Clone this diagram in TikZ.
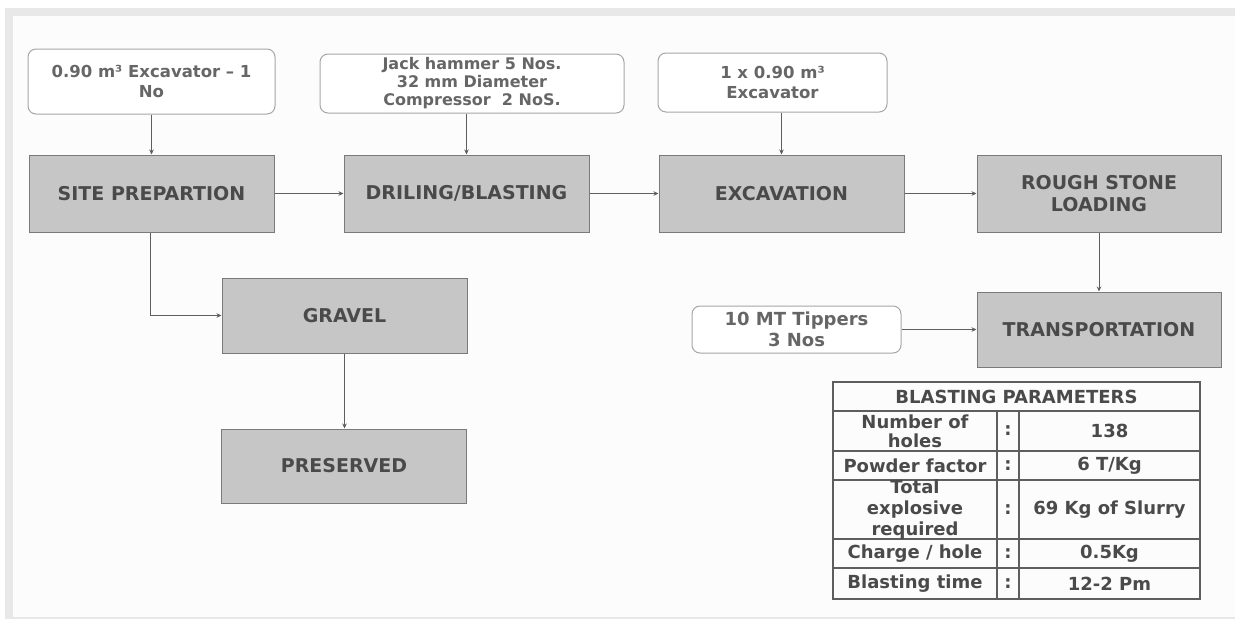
\documentclass[tikz,border=0pt]{standalone}
\usepackage{fontspec}
\setmainfont{DejaVu Sans}
\usetikzlibrary{arrows.meta}
\definecolor{bandgray}{HTML}{E8E8E8}
\definecolor{paper}{HTML}{FCFCFC}
\definecolor{boxgray}{HTML}{C6C6C6}
\definecolor{boxedge}{HTML}{7A7A7A}
\definecolor{txtgray}{HTML}{4A4A4A}
\definecolor{lightedge}{HTML}{A6A6A6}
\definecolor{wtxt}{HTML}{666666}
\definecolor{linegray}{HTML}{5E5E5E}
\begin{document}
\begin{tikzpicture}[x=1pt,y=-1pt,
  procbox/.style={draw=boxedge, fill=boxgray, line width=1pt, minimum width=245pt, minimum height=77pt, inner sep=0pt, align=center, font=\fontsize{19}{22}\selectfont\bfseries, text=txtgray},
  equipbox/.style={draw=lightedge, fill=white, rounded corners=8pt, line width=1pt, inner sep=0pt, align=center, font=\fontsize{16.5}{20}\selectfont\bfseries, text=wtxt},
  flow/.style={draw=linegray, line width=0.9pt, -{Stealth[length=5pt,width=4.5pt]}},
  celltext/.style={font=\fontsize{18}{21}\selectfont\bfseries, text=txtgray, align=center, inner sep=0pt},
  gridline/.style={draw=linegray, line width=1.3pt}
]
\useasboundingbox (0,0) rectangle (1235,619);
\fill[white] (0,0) rectangle (1235,619);
\fill[bandgray] (5,8) rectangle (1235,619);
\fill[paper] (13,16) rectangle (1235,617);

% process boxes
\node[procbox] (site) at (151.5,193.5) {SITE PREPARTION};
\node[procbox] (drill) at (466.5,193.5) {DRILING/BLASTING};
\node[procbox] (exc) at (781.5,193.5) {EXCAVATION};
\node[procbox, minimum width=244pt] (rough) at (1099,193.5) {ROUGH STONE\\LOADING};
\node[procbox, minimum height=75pt] (gravel) at (344.5,315.5) {GRAVEL};
\node[procbox, minimum height=74pt] (pres) at (344,466) {PRESERVED};
\node[procbox, minimum width=244pt, minimum height=75pt] (trans) at (1099,329.5) {TRANSPORTATION};

% equipment boxes
\node[equipbox, minimum width=247pt, minimum height=65pt] (e1) at (151.5,81.5) {0.90 m³ Excavator – 1\\No};
\node[equipbox, minimum width=304pt, minimum height=59pt, font=\fontsize{16}{18}\selectfont\bfseries] (e2) at (472,83.5) {Jack hammer 5 Nos.\\32 mm Diameter\\Compressor\ \ 2 NoS.};
\node[equipbox, minimum width=229pt, minimum height=59pt] (e3) at (772.5,82.5) {1 x 0.90 m³\\Excavator};
\node[equipbox, minimum width=209pt, minimum height=47pt, font=\fontsize{18}{21}\selectfont\bfseries] (e4) at (796.5,329.5) {10 MT Tippers\\3 Nos};

% connectors
\draw[flow] (e1.south) -- (site.north);
\draw[flow] (drill.north |- e2.south) -- (drill.north);
\draw[flow] (exc.north |- e3.south) -- (exc.north);
\draw[flow] (site.east) -- (drill.west);
\draw[flow] (drill.east) -- (exc.west);
\draw[flow] (exc.east) -- (rough.west);
\draw[flow] ([xshift=-1.5pt]site.south) |- (gravel.west);
\draw[flow] (gravel.south) -- (gravel.south |- pres.north);
\draw[flow] (rough.south) -- (trans.north);
\draw[flow] (e4.east) -- (trans.west);

% blasting parameters table
\draw[gridline] (833,382) rectangle (1200,599);
\draw[gridline] (833,411) -- (1200,411);
\draw[gridline] (833,451) -- (1200,451);
\draw[gridline] (833,480) -- (1200,480);
\draw[gridline] (833,539) -- (1200,539);
\draw[gridline] (833,568) -- (1200,568);
\draw[gridline] (997,411) -- (997,599);
\draw[gridline] (1019,411) -- (1019,599);

\node[celltext] (th) at (1016.5,396.5) {BLASTING PARAMETERS};
\node[celltext, font=\fontsize{18}{19}\selectfont\bfseries] (r1a) at (915,431) {Number of\\holes};
\node[celltext] (r1b) at (1008,431) {:};
\node[celltext] (r1c) at (1109.5,431) {138};
\node[celltext] (r2a) at (915,465.5) {Powder factor};
\node[celltext] (r2b) at (1008,465.5) {:};
\node[celltext] (r2c) at (1109.5,465.5) {6 T/Kg};
\node[celltext] (r3a) at (915,509.5) {Total\\explosive\\required};
\node[celltext] (r3b) at (1008,509.5) {:};
\node[celltext] (r3c) at (1109.5,509.5) {69 Kg of Slurry};
\node[celltext] (r4a) at (915,553.5) {Charge / hole};
\node[celltext] (r4b) at (1008,553.5) {:};
\node[celltext] (r4c) at (1109.5,553.5) {0.5Kg};
\node[celltext] (r5a) at (915,583.5) {Blasting time};
\node[celltext] (r5b) at (1008,583.5) {:};
\node[celltext] (r5c) at (1109.5,583.5) {12-2 Pm};
\end{tikzpicture}
\end{document}
